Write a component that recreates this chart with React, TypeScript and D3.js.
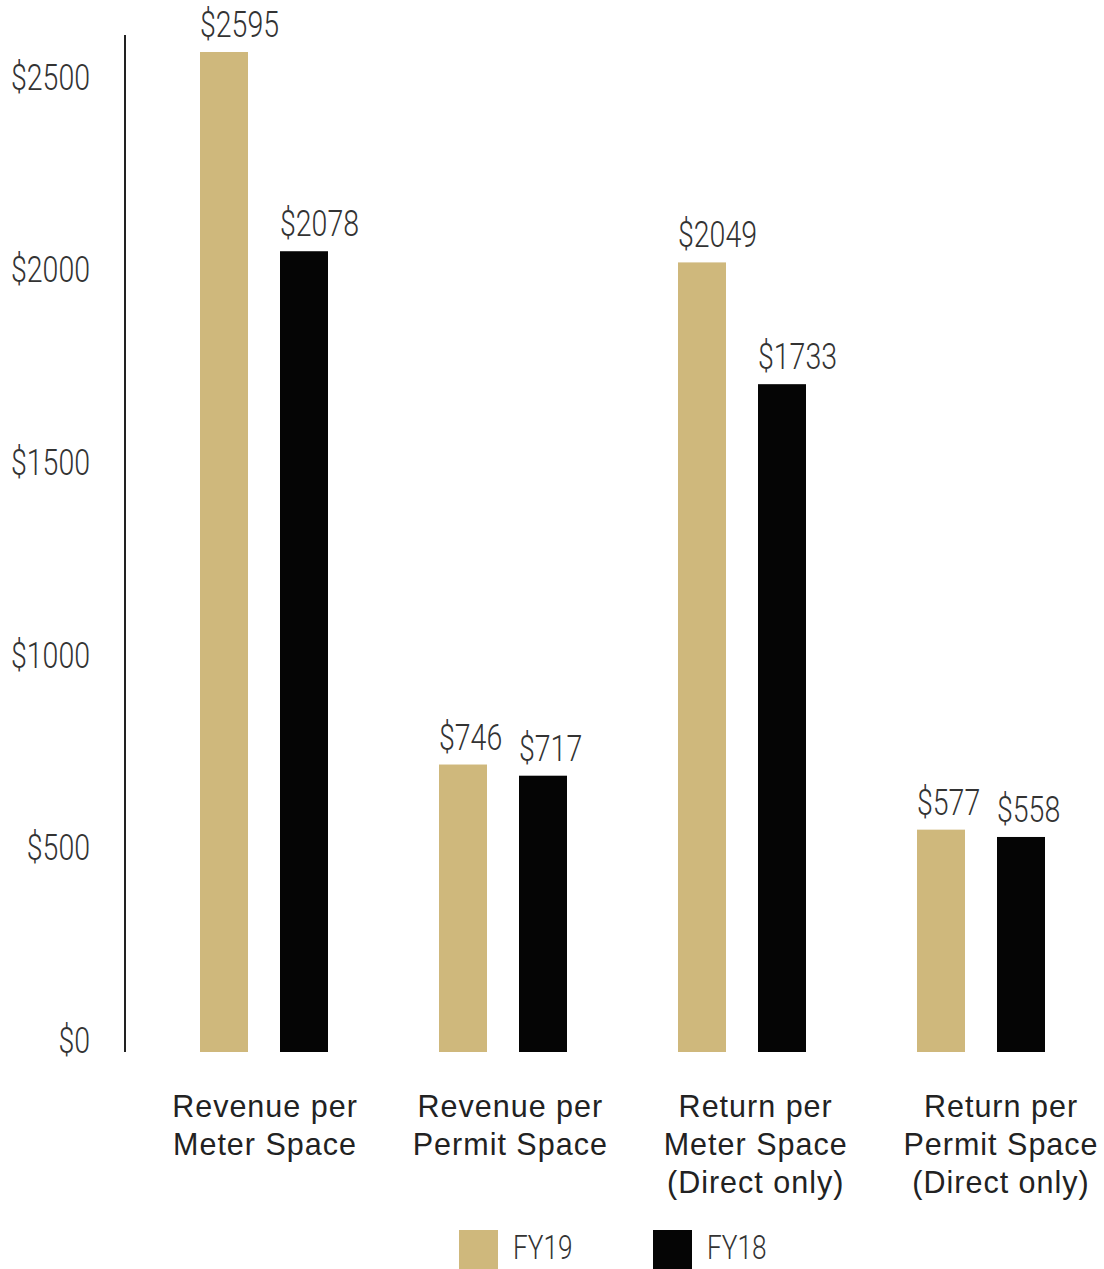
import React from "react";
import * as d3 from "d3";

const categories = [
  ["Revenue per", "Meter Space"],
  ["Revenue per", "Permit Space"],
  ["Return per", "Meter Space", "(Direct only)"],
  ["Return per", "Permit Space", "(Direct only)"],
];
const series = ["FY19", "FY18"];
const fy19 = [2595, 746, 2049, 577];
const fy18 = [2078, 717, 1733, 558];
const yTicks = [0, 500, 1000, 1500, 2000, 2500];
const colors = ["#CFB87C", "#050505"];

const W = 1104;
const H = 1269;
const condensed = "Roboto, 'Liberation Sans', sans-serif";
const sans = "'Liberation Sans', Arial, Helvetica, sans-serif";

function CText({ x, y, anchor = "start", size = 37, children }: any) {
  return (
    <text
      transform={`translate(${x},${y}) scale(0.77,1)`}
      textAnchor={anchor}
      fontFamily={condensed}
      fontWeight={300}
      fontSize={size}
      fill="#333"
    >
      {children}
    </text>
  );
}

export default function App() {
  const keys = categories.map((_, i) => String(i));
  const y = d3.scaleLinear().domain([0, 2595]).range([1052, 52]);
  const x0 = d3
    .scaleBand<string>()
    .domain(keys)
    .range([200, 917 + 128])
    .paddingInner(1 - 128 / 239)
    .paddingOuter(0);
  const x1 = d3.scaleBand<string>().domain(series).range([0, 128]).paddingInner(0.4);
  const xl = d3.scalePoint<string>().domain(keys).range([265, 1001]);
  const values = [fy19, fy18];

  return (
    <div style={{ position: "absolute", left: 0, top: 0 }}>
      <svg width={W} height={H} style={{ display: "block", background: "#fff" }}>
        <line x1={125} x2={125} y1={35} y2={y(0)} stroke="#222" strokeWidth={2} />
        {yTicks.map((t) => (
          <CText key={t} x={90} y={y(t) + 1} anchor="end">
            {"$" + t}
          </CText>
        ))}
        {keys.map((k, i) => (
          <g key={k} transform={`translate(${x0(k)},0)`}>
            {series.map((s, j) => {
              const v = values[j][i];
              const bx = x1(s)!;
              return (
                <g key={s}>
                  <rect
                    x={bx}
                    y={y(v)}
                    width={x1.bandwidth()}
                    height={y(0) - y(v)}
                    fill={colors[j]}
                  />
                  <CText x={bx} y={y(v) - 15}>
                    {"$" + v}
                  </CText>
                </g>
              );
            })}
          </g>
        ))}
        {categories.map((lines, i) => (
          <text
            key={i}
            textAnchor="middle"
            fontFamily={sans}
            fontSize={30.5}
            letterSpacing={1}
            fill="#222"
          >
            {lines.map((l, li) => (
              <tspan key={li} x={xl(String(i))} y={1117 + li * 38}>
                {l}
              </tspan>
            ))}
          </text>
        ))}
        {series.map((s, j) => {
          const lx = 459 + j * 194;
          return (
            <g key={s}>
              <rect x={lx} y={1230} width={39} height={39} fill={colors[j]} />
              <CText x={lx + 54} y={1259} size={34}>
                {s}
              </CText>
            </g>
          );
        })}
      </svg>
    </div>
  );
}
